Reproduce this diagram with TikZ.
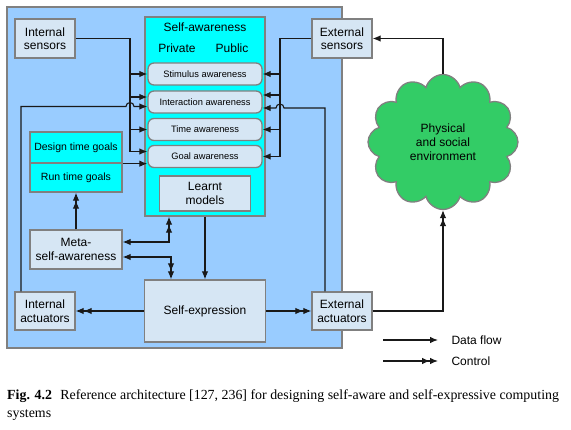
\documentclass[tikz,border=0pt]{standalone}
\usepackage{fontspec}
\setmainfont{Liberation Sans}
\newfontfamily\capfont{Liberation Serif}
\usetikzlibrary{arrows.meta,shapes.symbols,calc}

\definecolor{panelblue}{RGB}{153,204,255}
\definecolor{boxfill}{RGB}{214,230,244}
\definecolor{aqua}{RGB}{0,255,255}
\definecolor{envgreen}{RGB}{51,204,102}
\definecolor{edgegray}{RGB}{128,128,128}
\definecolor{wiregray}{RGB}{25,25,25}

\begin{document}
\begin{tikzpicture}[x=1pt,y=-1pt,
	>={Latex[length=8pt,width=6.5pt]},
	font=\fontsize{12}{13.5}\selectfont,
	box/.style={draw=edgegray,line width=1.3pt,fill=boxfill,align=center,inner sep=0pt},
	aware/.style={box,rounded corners=6pt,minimum width=114pt,minimum height=22pt,font=\fontsize{9.3}{11}\selectfont},
	goalbox/.style={draw=edgegray,line width=1.3pt,fill=aqua,minimum width=92pt,inner sep=0pt,font=\fontsize{10.5}{12}\selectfont},
	wire/.style={draw=wiregray,line width=1.1pt}]
	\useasboundingbox (0,0) rectangle (571,430);
	
	\node[draw=edgegray,line width=1.3pt,fill=panelblue,minimum width=335pt,minimum height=341pt] (panel) at (174.5,177.5) {};
	\node[draw=edgegray,line width=1.3pt,fill=aqua,minimum width=120pt,minimum height=199pt] (selfaw) at (205,116.5) {};
	\node (satitle) at (205,27) {Self-awareness};
	\node (private) at (177,48) {Private};
	\node (public) at (232,48) {Public};
	
	\node[aware] (stim) at (205,74) {Stimulus awareness};
	\node[aware] (inter) at (205,102) {Interaction awareness};
	\node[aware] (time) at (205,129.5) {Time awareness};
	\node[aware] (goal) at (205,156.5) {Goal awareness};
	\node[box,minimum width=91pt,minimum height=35pt] (learnt) at (205,193.5) {Learnt\\models};
	
	\node[box,minimum width=60pt,minimum height=39pt] (intsens) at (45,38.5) {Internal\\sensors};
	\node[box,minimum width=60pt,minimum height=39pt] (extsens) at (342,38.5) {External\\sensors};
	\node[goalbox,minimum height=31pt] (design) at (76,147.5) {Design time goals};
	\node[goalbox,minimum height=29pt] (run) at (76,177.5) {Run time goals};
	\node[box,minimum width=92pt,minimum height=39pt] (meta) at (76,249.5) {Meta-\\self-awareness};
	\node[box,minimum width=60pt,minimum height=38pt] (intact) at (45,311) {Internal\\actuators};
	\node[box,minimum width=121pt,minimum height=62pt] (selfexp) at (205,311) {Self-expression};
	\node[box,minimum width=60pt,minimum height=38pt] (extact) at (342,311) {External\\actuators};
	
	\node[cloud,cloud puffs=12,draw=edgegray,line width=1.3pt,fill=envgreen,minimum width=150pt,minimum height=135pt,align=center,font=\fontsize{12}{14}\selectfont] (env) at (443,142) {Physical\\and social\\environment};
	
	% sensor buses
	\coordinate (lbus) at (130,0);
	\coordinate (rbus) at (280,0);
	\coordinate (interL1) at ([yshift=5pt]inter.west);
	\coordinate (interL2) at ([yshift=-4.5pt]inter.west);
	\coordinate (goalL1) at ([yshift=5pt]goal.west);
	\coordinate (goalL2) at (design.south east -| goal.west);
	\coordinate (interR1) at ([yshift=7pt]inter.east);
	\coordinate (interR2) at ([yshift=-6pt]inter.east);
	\coordinate (ia) at ([xshift=-24pt]intact.north);
	\coordinate (ea) at ([xshift=-17pt]extact.north);
	
	\draw[wire,->] (intsens.east) -| (lbus |- goalL1) -- (goalL1);
	\draw[wire,->] (lbus |- stim.west) -- (stim.west);
	\draw[wire,->] (lbus |- interL1) -- (interL1);
	\draw[wire,->] (lbus |- time.west) -- (time.west);
	\draw[wire,->] (design.south east) -- (goalL2);
	\draw[wire,->] (ia) |- ($(lbus |- interL2)+(-4,0)$) arc[start angle=180,end angle=0,radius=4pt] -- (interL2);
	
	\draw[wire,->] (extsens.west) -| (rbus |- goal.east) -- (goal.east);
	\draw[wire,->] (rbus |- stim.east) -- (stim.east);
	\draw[wire,->] (rbus |- interR1) -- (interR1);
	\draw[wire,->] (rbus |- time.east) -- (time.east);
	\draw[wire,->] (ea) |- ($(rbus |- interR2)+(4,0)$) arc[start angle=0,end angle=180,radius=4pt] -- (interR2);
	
	% meta level
	\coordinate (metaA) at ([yshift=7.5pt]meta.east);
	\coordinate (metaB) at ([yshift=-7.5pt]meta.east);
	\coordinate (saIn) at ([xshift=-36pt]selfaw.south);
	\coordinate (seIn) at ([xshift=-34pt]selfexp.north);
	\draw[wire,<->>] (metaA) -| (saIn);
	\draw[wire,<->>] (metaB) -| (seIn);
	\draw[wire,->>] (meta) -- (run);
	\draw[wire,->] (selfaw.south) -- (selfexp.north);
	
	% actuators and environment
	\draw[wire,->>] (selfexp) -- (intact);
	\draw[wire,->>] (selfexp) -- (extact);
	\draw[wire,->>] (extact.east) -| (env.south);
	\draw[wire,->] (env.north) |- (extsens.east);
	
	% legend
	\coordinate (lgA) at (383,340);
	\coordinate (lgB) at (438,340);
	\coordinate (lgC) at (383,361);
	\coordinate (lgD) at (438,361);
	\draw[wire,->] (lgA) -- (lgB);
	\draw[wire,->>] (lgC) -- (lgD);
	\node[anchor=west] (lgdata) at (448,340) {Data flow};
	\node[anchor=west] (lgctrl) at (448,361) {Control};
	
	\node[anchor=north west,inner sep=0pt,align=left,font=\capfont\fontsize{13.9}{18}\selectfont] (caption) at (7,390) {\textbf{Fig. 4.2}\hspace{0.6em}Reference architecture [127, 236] for designing self-aware and self-expressive computing\\systems};
	
\end{tikzpicture}
\end{document}
